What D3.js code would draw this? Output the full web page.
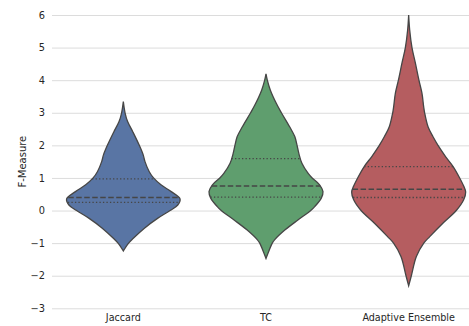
<!DOCTYPE html>
<html>
<head>
<meta charset="utf-8">
<script src="https://cdn.jsdelivr.net/npm/d3@7"></script>
<style>
  html, body { margin: 0; padding: 0; background: #fff; }
  svg { display: block; }
  text { font-family: "DejaVu Sans", sans-serif; fill: #262626; }
</style>
</head>
<body>
<svg id="chart" width="469" height="326"></svg>
<script>
// Methods compared
const categories = ["Jaccard", "TC", "Adaptive Ensemble"];
const fills = ["#5975a4", "#5f9e6e", "#b55d60"];

// Kernel density outlines: [F-Measure value, relative density (0..1)]
const jaccardDensity = [
  [3.34, 0], [3.0, 0.03], [2.73, 0.075], [2.42, 0.165], [2.0, 0.28], [1.70, 0.35],
  [1.50, 0.38], [1.19, 0.455], [1.0, 0.53], [0.79, 0.66], [0.58, 0.84], [0.36, 0.995],
  [0.17, 0.955], [0.0, 0.82], [-0.24, 0.60], [-0.54, 0.37], [-0.85, 0.175],
  [-1.0, 0.093], [-1.24, 0]
];
const tcDensity = [
  [4.19, 0], [4.0, 0.023], [3.70, 0.075], [3.29, 0.18], [3.0, 0.27], [2.57, 0.415],
  [2.27, 0.505], [2.0, 0.545], [1.76, 0.575], [1.45, 0.63], [1.14, 0.74], [1.0, 0.81],
  [0.79, 0.94], [0.58, 1.0], [0.38, 0.97], [0.12, 0.855], [0.0, 0.785], [-0.29, 0.56],
  [-0.60, 0.33], [-0.90, 0.15], [-1.0, 0.11], [-1.31, 0.035], [-1.47, 0]
];
const adaptiveDensity = [
  [6.0, 0], [5.54, 0.018], [5.0, 0.058], [4.52, 0.118], [4.0, 0.18], [3.60, 0.233],
  [3.19, 0.263], [3.0, 0.28], [2.57, 0.34], [2.27, 0.425], [2.0, 0.515], [1.65, 0.65],
  [1.35, 0.78], [1.0, 0.895], [0.75, 0.965], [0.57, 1.0], [0.33, 0.965], [0.0, 0.835],
  [-0.39, 0.60], [-0.80, 0.37], [-1.0, 0.265], [-1.41, 0.135], [-2.0, 0.047], [-2.31, 0]
];
const densities = [jaccardDensity, tcDensity, adaptiveDensity];

// Quartiles [Q1, median, Q3]
const jaccardQuartiles = [0.25, 0.40, 0.97];
const tcQuartiles = [0.41, 0.75, 1.59];
const adaptiveQuartiles = [0.40, 0.65, 1.35];
const quartiles = [jaccardQuartiles, tcQuartiles, adaptiveQuartiles];

const yTicks = [-3, -2, -1, 0, 1, 2, 3, 4, 5, 6];

const svg = d3.select("#chart");
const W = 469;
const mLeft = 52, mRight = 480, mTop = 15, mBottom = 308.3;

const x = d3.scaleBand().domain(categories).range([mLeft, mRight]);
const y = d3.scaleLinear().domain([-3, 6]).range([mBottom, mTop]);
const halfWidth = d3.scaleLinear().domain([0, 1]).range([0, 57]);

// Grid
const yAxis = d3.axisLeft(y).tickValues(yTicks).tickSize(-(W - mLeft)).tickPadding(7)
  .tickFormat(d => d < 0 ? "\u2212" + Math.abs(d) : String(d));
const gy = svg.append("g").attr("transform", `translate(${mLeft},0)`).call(yAxis);
gy.select(".domain").remove();
gy.selectAll(".tick line").attr("stroke", "#dcdcdc").attr("stroke-width", 1);
gy.selectAll(".tick text").attr("font-size", 9.8).attr("fill", "#333");

// Category labels
const xAxis = d3.axisBottom(x).tickSize(0).tickPadding(6);
const gx = svg.append("g").attr("transform", `translate(0,${mBottom})`).call(xAxis);
gx.select(".domain").remove();
gx.selectAll(".tick text").attr("font-size", 9.6).attr("fill", "#333");

// Y-axis title
svg.append("text")
  .attr("transform", `translate(26,${(mTop + mBottom) / 2}) rotate(-90)`)
  .attr("text-anchor", "middle")
  .attr("font-size", 10)
  .attr("fill", "#333")
  .text("F-Measure");

const outline = "#464646";

function widthAt(dens, v) {
  for (let i = 0; i < dens.length - 1; i++) {
    const a = dens[i], b = dens[i + 1];
    if (v <= a[0] && v >= b[0]) {
      const t = (a[0] - v) / (a[0] - b[0]);
      return a[1] + t * (b[1] - a[1]);
    }
  }
  return 0;
}

categories.forEach((cat, i) => {
  const cx = x(cat) + x.bandwidth() / 2;
  const dens = densities[i];
  const area = d3.area()
    .y(d => y(d[0]))
    .x0(d => cx - halfWidth(d[1]))
    .x1(d => cx + halfWidth(d[1]))
    .curve(d3.curveCatmullRom.alpha(0.5));
  const g = svg.append("g");
  g.append("path").datum(dens)
    .attr("d", area)
    .attr("fill", fills[i])
    .attr("stroke", outline)
    .attr("stroke-width", 1.3);

  quartiles[i].forEach((q, k) => {
    const hw = halfWidth(widthAt(dens, q));
    g.append("line")
      .attr("x1", cx - hw).attr("x2", cx + hw)
      .attr("y1", y(q)).attr("y2", y(q))
      .attr("stroke", outline)
      .attr("stroke-width", k === 1 ? 1.5 : 1.3)
      .attr("stroke-dasharray", k === 1 ? "5.5,2.5" : "1.3,2.2");
  });
});
</script>
</body>
</html>
